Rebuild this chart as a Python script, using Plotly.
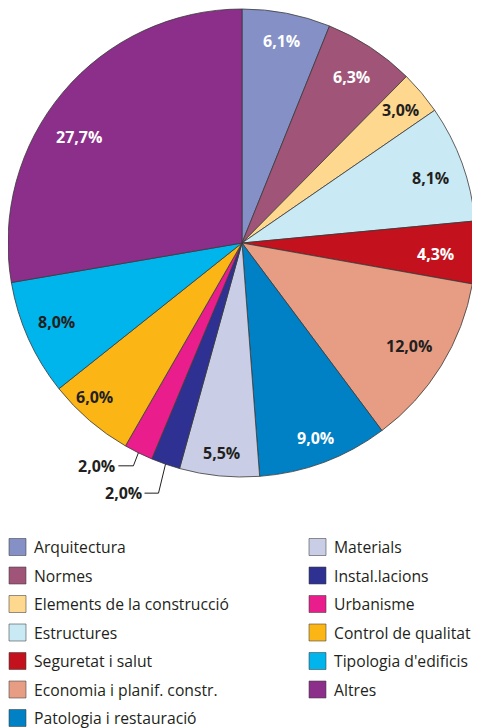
import math
import plotly.graph_objects as go

# ---- data ----
categories = ["Arquitectura", "Normes", "Elements de la construcció", "Estructures",
              "Seguretat i salut", "Economia i planif. constr.", "Patologia i restauració",
              "Materials", "Instal.lacions", "Urbanisme", "Control de qualitat",
              "Tipologia d'edificis", "Altres"]
values = [6.1, 6.3, 3.0, 8.1, 4.3, 12.0, 9.0, 5.5, 2.0, 2.0, 6.0, 8.0, 27.7]

# ---- styles ----
colors = ["#8490c6", "#a05578", "#fed88f", "#c9e9f4", "#c3121d", "#e69d83", "#0080c5",
          "#c9cee6", "#2e3191", "#e91e8c", "#fbb616", "#00b4ec", "#8c2f8a"]
white_text = [True, True, False, False, True, False, True, False, False, False, False, False, True]
label_r = [0.88, 0.85, 0.885, 0.85, 0.83, 0.84, 0.89, 0.90, None, None, 0.91, 0.86, 0.83]
label_da = [0, 0, 0, 1, 1, 0, 0, 0, 0, 0, 3, 1, -7]
DARK = "#231f20"

# page body has an 8px margin; work in window pixels and convert
OFF = 8
W, H = 472, 720
CX, CY, R = 242, 243, 234

def px(x):
    return (x - OFF) / W

def py(y):
    return 1 - (y - OFF) / H

fig = go.Figure()
fig.add_trace(go.Pie(
    labels=categories, values=values, sort=False, direction="clockwise", rotation=0,
    marker=dict(colors=colors, line=dict(color="#3a3a3a", width=0.8)),
    textinfo="none", hoverinfo="label+percent", showlegend=False,
    domain=dict(x=[px(CX - R), px(CX + R)], y=[py(CY + R), py(CY - R)]),
))

total = sum(values)
annotations = []
shapes = []
cum = 0.0
outside_idx = []
for i, v in enumerate(values):
    mid = (cum + v / 2) / total * 360.0
    cum += v
    txt = f"{v:.1f}%".replace(".", ",")
    if label_r[i] is None:
        outside_idx.append((i, mid, txt))
        continue
    a = math.radians(mid + label_da[i])
    x = CX + R * label_r[i] * math.sin(a)
    y = CY - R * label_r[i] * math.cos(a)
    annotations.append(dict(
        x=px(x), y=py(y), xref="paper", yref="paper", text=txt, showarrow=False,
        font=dict(family="Open Sans", size=16, weight=700,
                  color="white" if white_text[i] else DARK),
        xanchor="center", yanchor="middle"))

# leader lines for the two small slices (elbow offsets in px)
elbows = {8: (-7, 29, -14), 9: (-5, 13, -15)}
for i, mid, txt in outside_idx:
    a = math.radians(mid)
    ex = CX + R * math.sin(a)
    ey = CY - R * math.cos(a)
    dx, dy, hx = elbows[i]
    kx, ky = ex + dx, ey + dy
    lx = kx + hx
    shapes.append(dict(
        type="path", xref="paper", yref="paper",
        path=f"M {px(ex)} {py(ey)} L {px(kx)} {py(ky)} L {px(lx)} {py(ky)}",
        line=dict(color=DARK, width=1)))
    annotations.append(dict(
        x=px(lx - 1), y=py(ky), xref="paper", yref="paper", text=txt, showarrow=False,
        font=dict(family="Open Sans", size=16, weight=700, color=DARK),
        xanchor="right", yanchor="middle"))

# custom two-column legend
n_left = 7
row0, dy_row = 547, 28.5
for i, name in enumerate(categories):
    col = 0 if i < n_left else 1
    row = i if i < n_left else i - n_left
    sx = 9 if col == 0 else 309
    yc = row0 + row * dy_row
    shapes.append(dict(type="rect", xref="paper", yref="paper",
                       x0=px(sx), x1=px(sx + 17), y0=py(yc + 8.5), y1=py(yc - 8.5),
                       fillcolor=colors[i], line=dict(color="rgba(60,60,60,0.55)", width=1)))
    annotations.append(dict(x=px(sx + 23), y=py(yc), xref="paper", yref="paper",
                            text=name, showarrow=False, xanchor="left", yanchor="middle",
                            font=dict(family="Open Sans", size=15.7, color=DARK)))

fig.update_layout(
    width=W, height=H, margin=dict(l=0, r=0, t=0, b=0),
    paper_bgcolor="white", plot_bgcolor="white",
    annotations=annotations, shapes=shapes,
)
fig.write_html("out.html")
